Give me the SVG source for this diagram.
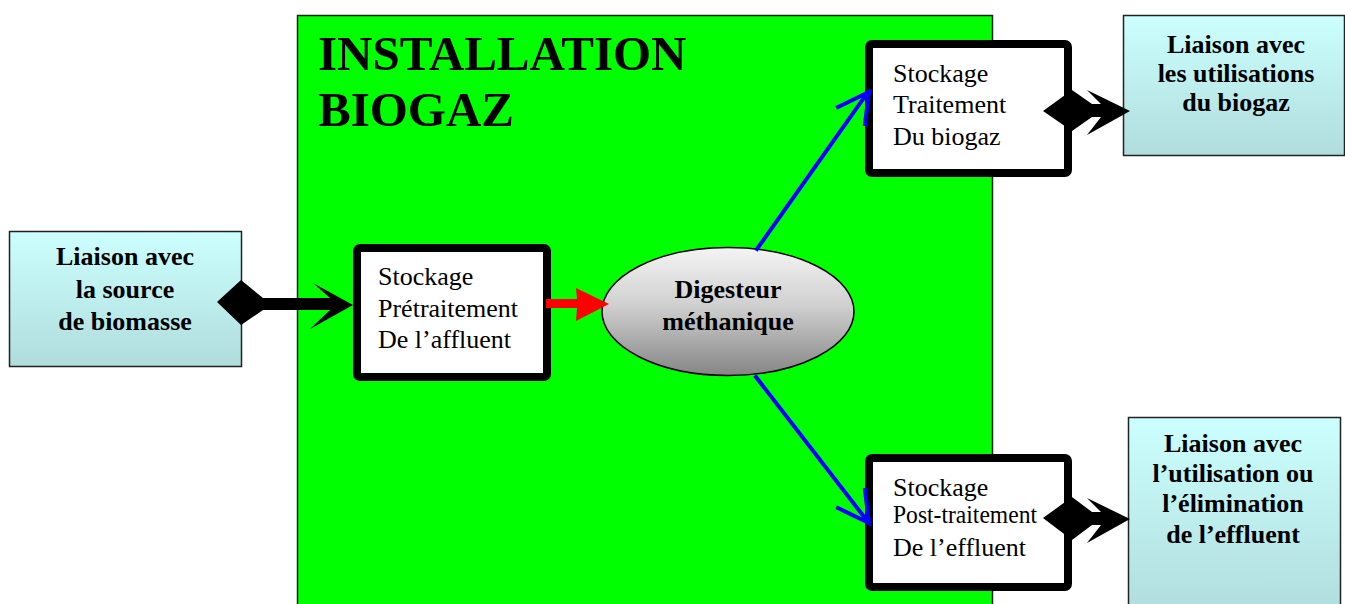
<svg xmlns="http://www.w3.org/2000/svg" width="1345" height="604" viewBox="0 0 1345 604">
<defs>
<linearGradient id="cyan" x1="0" y1="0" x2="0" y2="1"><stop offset="0" stop-color="#CCFFFF"/><stop offset="1" stop-color="#B0DCDC"/></linearGradient>
<linearGradient id="gray" x1="0" y1="0" x2="0" y2="1"><stop offset="0" stop-color="#F4F4F4"/><stop offset="0.45" stop-color="#D0D0D0"/><stop offset="1" stop-color="#858585"/></linearGradient>
<style>
.cy{fill:url(#cyan);stroke:#222;stroke-width:1.5}
.bx{fill:#fff;stroke:#000;stroke-width:8}
.b{font-family:"Liberation Serif",serif;font-weight:bold;font-size:26px;fill:#000;text-anchor:middle}
.r{font-family:"Liberation Serif",serif;font-size:26px;fill:#000}
.blk{fill:#000}
.blue{fill:none;stroke:#0000FF;stroke-width:4;stroke-linecap:square;stroke-linejoin:miter}
</style>
</defs>
<rect width="1345" height="604" fill="#fff"/>
<g id="installation">
<rect x="297.5" y="15.5" width="695" height="600" fill="#00FF00" stroke="#222" stroke-width="1.5"/>
<text x="318" y="70" font-family="Liberation Serif,serif" font-weight="bold" font-size="49">INSTALLATION</text>
<text x="318" y="126" font-family="Liberation Serif,serif" font-weight="bold" font-size="49">BIOGAZ</text>
</g>
<g id="source">
<rect class="cy" x="9.5" y="231.5" width="232" height="135"/>
<text class="b" x="125" y="265">Liaison avec</text>
<text class="b" x="125" y="298">la source</text>
<text class="b" x="125" y="330">de biomasse</text>
</g>
<g id="pretraitement">
<rect class="bx" x="357" y="248" width="190" height="129" rx="3"/>
<text class="r" x="378" y="285">Stockage</text>
<text class="r" x="378" y="317">Prétraitement</text>
<text class="r" x="378" y="348">De l’affluent</text>
</g>
<g id="digesteur">
<ellipse cx="728" cy="311.5" rx="126" ry="64" fill="url(#gray)" stroke="#000" stroke-width="1.5"/>
<text class="b" x="728" y="298">Digesteur</text>
<text class="b" x="728" y="330">méthanique</text>
</g>
<g id="biogaz">
<rect class="bx" x="869" y="44" width="199" height="129" rx="3"/>
<text class="r" x="893" y="82">Stockage</text>
<text class="r" x="893" y="113">Traitement</text>
<text class="r" x="893" y="145">Du biogaz</text>
</g>
<g id="effluent">
<rect class="bx" x="869" y="458" width="199" height="129" rx="3"/>
<text class="r" x="893" y="496">Stockage</text>
<text class="r" x="893" y="523" font-size="22" textLength="144" lengthAdjust="spacingAndGlyphs">Post-traitement</text>
<text class="r" x="893" y="556">De l’effluent</text>
</g>
<g id="utilisations-biogaz">
<rect class="cy" x="1123.5" y="15.5" width="221" height="140"/>
<text class="b" x="1236" y="53">Liaison avec</text>
<text class="b" x="1236" y="82">les utilisations</text>
<text class="b" x="1236" y="111">du biogaz</text>
</g>
<g id="elimination-effluent">
<rect class="cy" x="1128.5" y="417.5" width="212" height="200"/>
<text class="b" x="1233" y="452">Liaison avec</text>
<text class="b" x="1233" y="482">l’utilisation ou</text>
<text class="b" x="1233" y="512">l’élimination</text>
<text class="b" x="1233" y="543">de l’effluent</text>
</g>
<g id="connectors">
<path class="blk" d="M217,302 L241,280 L263,298 L330,298 L313,283 L353,305 L310,329 L330,310 L263,310 L241,325 Z"/>
<path fill="#FF0000" d="M546,299 L577,299 L576,288 L609,304 L576,321 L577,308 L546,308 Z"/>
<path class="blue" d="M757,249 L868,92"/>
<path class="blue" d="M838,107 L869,92 L865,124"/>
<path class="blue" d="M756,377 L868,522"/>
<path class="blue" d="M838,508 L869,523 L865,490"/>
<path class="blk" d="M1043,111 L1072,90 L1092,104 L1101,104 L1087,90 L1130,111 L1087,135 L1101,117 L1092,117 L1072,131 Z"/>
<path class="blk" d="M1043,518 L1072,497 L1092,512 L1101,512 L1087,498 L1130,519 L1087,543 L1101,525 L1092,525 L1072,540 Z"/>
</g>
</svg>
